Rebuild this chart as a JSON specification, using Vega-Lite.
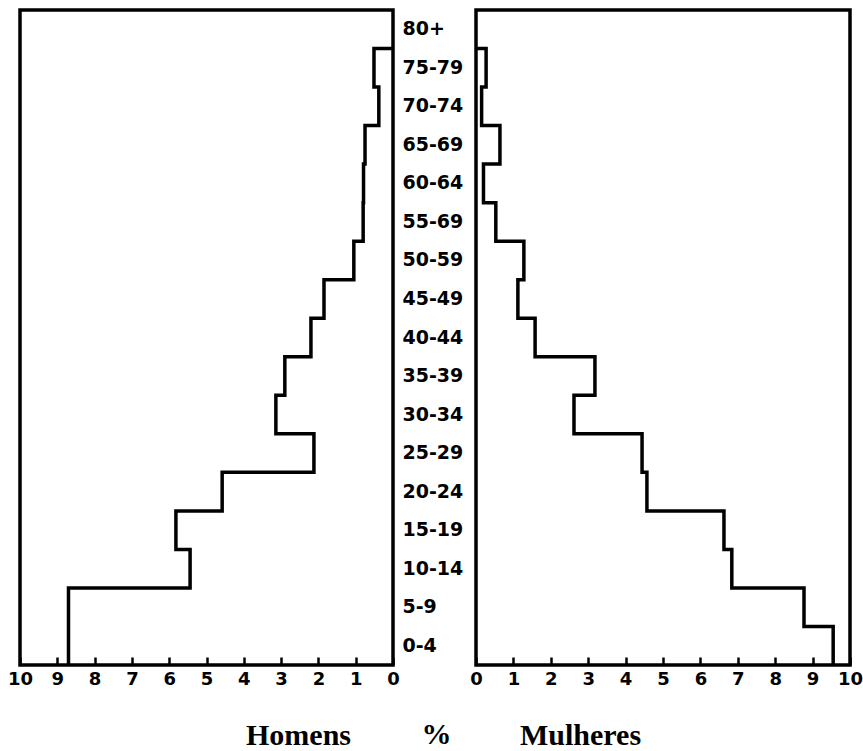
{
  "$schema": "https://vega.github.io/schema/vega-lite/v6.json",
  "padding": {"left": 5, "top": 8, "right": 3, "bottom": 0},
  "background": "white",
  "bounds": "flush",
  "spacing": 0,
  "datasets": {
    "pyr": [
      {"lo": 0, "label": "0-4", "homens": 8.7, "mulheres": 9.55},
      {"lo": 5, "label": "5-9", "homens": 8.7, "mulheres": 8.77},
      {"lo": 10, "label": "10-14", "homens": 5.44, "mulheres": 6.84},
      {"lo": 15, "label": "15-19", "homens": 5.82, "mulheres": 6.63},
      {"lo": 20, "label": "20-24", "homens": 4.58, "mulheres": 4.57},
      {"lo": 25, "label": "25-29", "homens": 2.12, "mulheres": 4.44},
      {"lo": 30, "label": "30-34", "homens": 3.14, "mulheres": 2.62},
      {"lo": 35, "label": "35-39", "homens": 2.9, "mulheres": 3.18},
      {"lo": 40, "label": "40-44", "homens": 2.2, "mulheres": 1.58},
      {"lo": 45, "label": "45-49", "homens": 1.85, "mulheres": 1.12},
      {"lo": 50, "label": "50-59", "homens": 1.05, "mulheres": 1.28},
      {"lo": 55, "label": "55-69", "homens": 0.8, "mulheres": 0.53},
      {"lo": 60, "label": "60-64", "homens": 0.79, "mulheres": 0.2},
      {"lo": 65, "label": "65-69", "homens": 0.75, "mulheres": 0.64},
      {"lo": 70, "label": "70-74", "homens": 0.38, "mulheres": 0.15},
      {"lo": 75, "label": "75-79", "homens": 0.51, "mulheres": 0.27},
      {"lo": 80, "label": "80+", "homens": 0, "mulheres": 0}
    ]
  },
  "config": {
    "view": {"stroke": "black", "strokeWidth": 3.5},
    "axis": {
      "labelFont": "DejaVu Sans",
      "labelFontWeight": "bold",
      "labelFontSize": 18,
      "labelColor": "black",
      "labelFlush": false,
      "labelOverlap": false,
      "ticks": true,
      "tickColor": "black",
      "tickWidth": 2.5,
      "tickSize": -8,
      "zindex": 1,
      "labelPadding": 13,
      "grid": false,
      "domain": false,
      "titleFont": "Liberation Serif",
      "titleFontWeight": "bold",
      "titleFontSize": 30,
      "titleColor": "black"
    }
  },
  "hconcat": [
    {
      "width": 373,
      "height": 655,
      "data": {"name": "pyr"},
      "mark": {"type": "line", "interpolate": "step-before", "color": "black", "strokeWidth": 3.5},
      "encoding": {
        "x": {
          "field": "homens",
          "type": "quantitative",
          "scale": {"domain": [0, 10], "reverse": true, "nice": false},
          "axis": {
            "values": [0, 1, 2, 3, 4, 5, 6, 7, 8, 9, 10],
            "title": "Homens",
            "titleX": 278,
            "titleY": 79,
            "titleBaseline": "alphabetic"
          }
        },
        "y": {"field": "lo", "type": "quantitative", "scale": {"domain": [0, 85], "nice": false}, "axis": null},
        "order": {"field": "lo", "type": "quantitative"}
      }
    },
    {
      "width": 83,
      "height": 655,
      "view": {"stroke": null},
      "data": {"name": "pyr"},
      "title": {
        "text": "%",
        "orient": "bottom",
        "font": "Liberation Serif",
        "fontSize": 30,
        "fontWeight": "bold",
        "baseline": "alphabetic",
        "offset": 79,
        "anchor": "middle",
        "dx": 2,
        "color": "black"
      },
      "mark": {"type": "text", "font": "DejaVu Sans", "fontWeight": "bold", "fontSize": 19, "align": "left", "dx": -32, "color": "black"},
      "encoding": {
        "y": {"field": "label", "type": "ordinal", "sort": {"field": "lo", "op": "min", "order": "descending"}, "axis": null},
        "text": {"field": "label"}
      }
    },
    {
      "width": 374,
      "height": 655,
      "data": {"name": "pyr"},
      "mark": {"type": "line", "interpolate": "step-before", "color": "black", "strokeWidth": 3.5},
      "encoding": {
        "x": {
          "field": "mulheres",
          "type": "quantitative",
          "scale": {"domain": [0, 10], "nice": false},
          "axis": {
            "values": [0, 1, 2, 3, 4, 5, 6, 7, 8, 9, 10],
            "title": "Mulheres",
            "titleX": 104,
            "titleY": 79,
            "titleBaseline": "alphabetic"
          }
        },
        "y": {"field": "lo", "type": "quantitative", "scale": {"domain": [0, 85], "nice": false}, "axis": null},
        "order": {"field": "lo", "type": "quantitative"}
      }
    }
  ]
}
